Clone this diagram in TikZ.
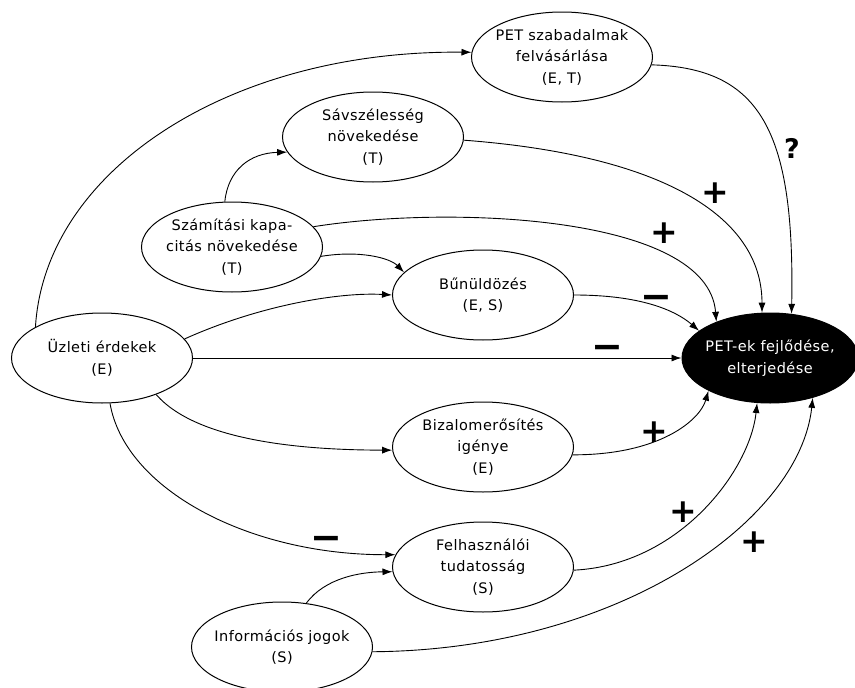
\documentclass[tikz,border=0pt]{standalone}
\usepackage{fontspec}
\setmainfont[LetterSpace=3]{DejaVu Sans}
\newfontfamily\signfont{DejaVu Sans}
\usetikzlibrary{shapes.geometric,arrows.meta}
\newcommand{\firstline}{\rule{0pt}{20pt}}
\begin{document}
\begin{tikzpicture}[x=1pt,y=-1pt,
  every node/.style={font=\fontsize{14.5}{21.5}\selectfont},
  ell/.style={ellipse,draw,line width=1pt,minimum width=181pt,minimum height=90pt,
    inner xsep=-12pt,inner ysep=-2pt,align=center,execute at begin node=\firstline},
  con/.style={line width=0.9pt,-{Latex[length=10pt,width=7pt]}},
  plus/.style={font=\signfont\fontsize{33}{33}\selectfont\bfseries,inner sep=0pt},
  minus/.style={font=\signfont\fontsize{38}{38}\selectfont\bfseries,inner sep=0pt},
  quest/.style={font=\signfont\fontsize{27}{27}\selectfont\bfseries,inner sep=0pt}]
\fill[white] (0,0) rectangle (855,688);
\useasboundingbox (0,0) rectangle (855,688);
% nodes
\node[ell] (ps) at (562,57) {PET szabadalmak\\felvásárlása\\(E, T)};
\node[ell] (sav) at (373,137) {Sávszélesség\\növekedése\\(T)};
\node[ell] (szam) at (232,247) {Számítási kapa-\\citás növekedése\\(T)};
\node[ell] (bun) at (483,295) {Bűnüldözés\\(E, S)};
\node[ell] (uz) at (102,358) {Üzleti érdekek\\(E)};
\node[ell,fill=black,text=white,minimum width=176pt] (pet) at (770,358) {PET-ek fejlődése,\\elterjedése};
\node[ell] (biz) at (483,447) {Bizalomerősítés\\igénye\\(E)};
\node[ell] (felh) at (483,567) {Felhasználói\\tudatosság\\(S)};
\node[ell] (info) at (282,647) {Információs jogok\\(S)};
% connectors
\draw[con] (uz.155) .. controls (45,170) and (230,50) .. (ps.177);
\draw[con] (ps.-5) .. controls (760,68) and (795,130) .. (pet.64);
\draw[con] (sav.-2) .. controls (660,155) and (762,215) .. (pet.100);
\draw[con] (szam.14) .. controls (450,205) and (708,215) .. (pet.146);
\draw[con] (szam.99) .. controls (228,170) and (250,153) .. (sav.190);
\draw[con] (szam.-6) .. controls (360,250) and (390,258) .. (bun.164);
\draw[con] (uz.13) .. controls (260,305) and (340,292) .. (bun.180);
\draw[con] (bun.0) .. controls (640,295) and (675,310) .. (pet.159);
\draw[con] (uz) -- (pet);
\draw[con] (uz.-34) .. controls (200,445) and (320,450) .. (biz.182);
\draw[con] (biz.-5) .. controls (660,455) and (700,420) .. (pet.208);
\draw[con] (uz.-80) .. controls (125,490) and (250,555) .. (felh.172);
\draw[con] (info.61) .. controls (325,578) and (360,572) .. (felh.183);
\draw[con] (felh.-2) .. controls (680,565) and (750,470) .. (pet.254);
\draw[con] (info.-3) .. controls (620,650) and (800,520) .. (pet.-43);
% signs
\node[quest] (q) at (792,148) {?};
\node[plus] (s1) at (715,193) {+};
\node[plus] (s2) at (664,233) {+};
\node[minus] (s3) at (656,302) {−};
\node[minus] (s4) at (607,352) {−};
\node[plus] (s5) at (654,432) {+};
\node[plus] (s6) at (683,512) {+};
\node[plus] (s7) at (754,542) {+};
\node[minus] (s8) at (326,543) {−};
\end{tikzpicture}
\end{document}
